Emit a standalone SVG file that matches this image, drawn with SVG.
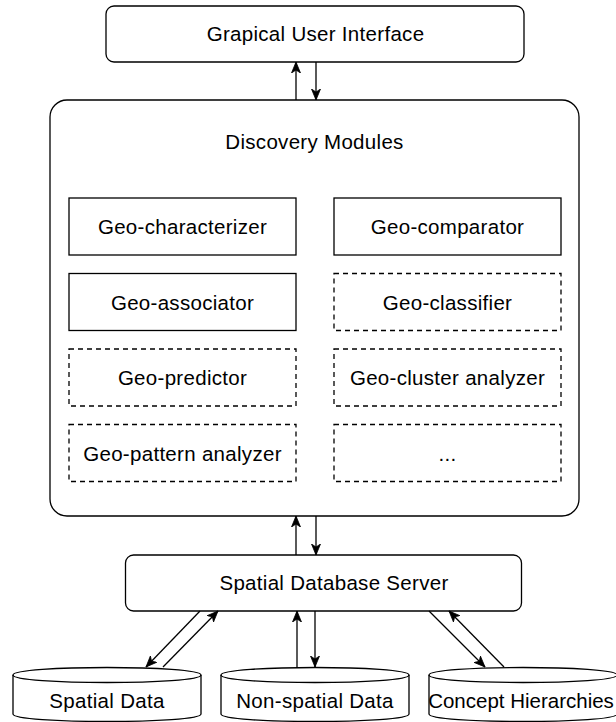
<svg xmlns="http://www.w3.org/2000/svg" width="616" height="722" viewBox="0 0 616 722">
<style>
  .box { fill: #ffffff; stroke: #000000; stroke-width: 1.3; }
  .dash { fill: #ffffff; stroke: #000000; stroke-width: 1.3; stroke-dasharray: 5 4; }
  .lbl { font-family: "Liberation Sans", Arial, sans-serif; font-size: 20.5px; letter-spacing: 0.3px; fill: #000000; text-anchor: middle; }
  .edge { fill: none; stroke: #000000; stroke-width: 1.3; marker-end: url(#arr); }
</style>
<defs>
  <marker id="arr" markerUnits="userSpaceOnUse" markerWidth="12" markerHeight="10" viewBox="0 0 12 10" refX="11" refY="5" orient="auto">
    <path d="M0,0.5 L11,5 L0,9.5 L3,5 Z" fill="#000000" stroke="#000000" stroke-width="0.8"/>
  </marker>
</defs>
<rect width="616" height="722" fill="#ffffff"/>

<g id="gui">
  <rect class="box" x="106" y="6" width="418" height="56" rx="8"/>
  <text class="lbl" x="315.5" y="41">Grapical User Interface</text>
</g>

<g id="discovery">
  <rect class="box" x="50" y="100" width="529" height="416" rx="17"/>
  <text class="lbl" x="314.5" y="149">Discovery Modules</text>
</g>

<g id="geo-characterizer">
  <rect class="box" x="69" y="198" width="227" height="57"/>
  <text class="lbl" x="182.5" y="234">Geo-characterizer</text>
</g>
<g id="geo-comparator">
  <rect class="box" x="334" y="198" width="227" height="57"/>
  <text class="lbl" x="447.5" y="234">Geo-comparator</text>
</g>
<g id="geo-associator">
  <rect class="box" x="69" y="273.5" width="227" height="57"/>
  <text class="lbl" x="182.5" y="309.5">Geo-associator</text>
</g>
<g id="geo-classifier">
  <rect class="dash" x="334" y="273.5" width="227" height="57"/>
  <text class="lbl" x="447.5" y="309.5">Geo-classifier</text>
</g>
<g id="geo-predictor">
  <rect class="dash" x="69" y="349" width="227" height="57"/>
  <text class="lbl" x="182.5" y="385">Geo-predictor</text>
</g>
<g id="geo-cluster">
  <rect class="dash" x="334" y="349" width="227" height="57"/>
  <text class="lbl" x="447.5" y="385">Geo-cluster analyzer</text>
</g>
<g id="geo-pattern">
  <rect class="dash" x="69" y="424.5" width="227" height="57"/>
  <text class="lbl" x="182.5" y="460.5">Geo-pattern analyzer</text>
</g>
<g id="geo-more">
  <rect class="dash" x="334" y="424.5" width="227" height="57"/>
  <text class="lbl" x="447.5" y="460.5">...</text>
</g>

<g id="server">
  <rect class="box" x="125.5" y="555" width="396" height="56" rx="8"/>
  <text class="lbl" x="334" y="590">Spatial Database Server</text>
</g>

<g id="spatial-data">
  <path class="box" d="M13,675 C13,665 201,665 201,675 L201,714 C201,724 13,724 13,714 Z"/>
  <path class="box" style="fill:none" d="M13,675 C13,685 201,685 201,675"/>
  <text class="lbl" x="107" y="708">Spatial Data</text>
</g>
<g id="non-spatial-data">
  <path class="box" d="M221,675 C221,665 409,665 409,675 L409,714 C409,724 221,724 221,714 Z"/>
  <path class="box" style="fill:none" d="M221,675 C221,685 409,685 409,675"/>
  <text class="lbl" x="315" y="708">Non-spatial Data</text>
</g>
<g id="concept-hierarchies">
  <path class="box" d="M429,675 C429,665 617,665 617,675 L617,714 C617,724 429,724 429,714 Z"/>
  <path class="box" style="fill:none" d="M429,675 C429,685 617,685 617,675"/>
  <text class="lbl" x="521" y="708" style="letter-spacing:0px">Concept Hierarchies</text>
</g>

<g id="connectors">
  <line class="edge" x1="296" y1="100" x2="296" y2="62"/>
  <line class="edge" x1="316" y1="62" x2="316" y2="100"/>
  <line class="edge" x1="296" y1="555" x2="296" y2="516"/>
  <line class="edge" x1="316" y1="516" x2="316" y2="555"/>
  <line class="edge" x1="200" y1="611" x2="146" y2="667"/>
  <line class="edge" x1="163" y1="667" x2="218" y2="611"/>
  <line class="edge" x1="297" y1="667" x2="297" y2="611"/>
  <line class="edge" x1="315" y1="611" x2="315" y2="667"/>
  <line class="edge" x1="429" y1="611" x2="485" y2="667"/>
  <line class="edge" x1="504" y1="667" x2="449" y2="611"/>
</g>
</svg>
